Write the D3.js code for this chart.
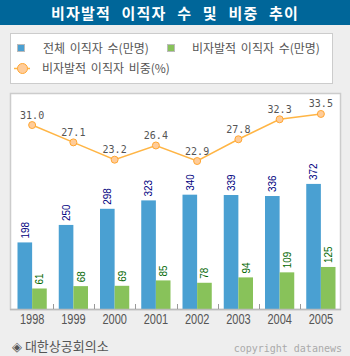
<!DOCTYPE html>
<html>
<head>
<meta charset="utf-8">
<script src="https://cdn.jsdelivr.net/npm/d3@7"></script>
<style>
  html, body { margin: 0; padding: 0; background: #eeeeee; }
  svg { display: block; }
</style>
</head>
<body>
<svg id="chart" width="350" height="356"></svg>
<script>
// chart data
const years = ["1998", "1999", "2000", "2001", "2002", "2003", "2004", "2005"];
const totalJobLeavers = [198, 250, 298, 323, 340, 339, 336, 372];
const involuntaryLeavers = [61, 68, 69, 85, 78, 94, 109, 125];
const involuntaryShare = [31.0, 27.1, 23.2, 26.4, 22.9, 27.8, 32.3, 33.5];

const titleText = "비자발적 이직자 수 및 비중 추이";
const seriesNames = ["전체 이직자 수(만명)", "비자발적 이직자 수(만명)", "비자발적 이직자 비중(%)"];
const sourceText = "◈ 대한상공회의소";
const copyText = "copyright datanews";

// display parameters
const W = 350, H = 356;
const plot = { left: 10, top: 93, right: 340, bottom: 309 };
const barColor = "#4aa0d2", greenColor = "#88c25a";
const lineColor = "#ffb545", markFill = "#ffcc99", markStroke = "#ffa733";
const korFont = "'Noto Sans CJK KR', 'Noto Sans', sans-serif";
const sansFont = "'Liberation Sans', Arial, sans-serif";
const monoFont = "'DejaVu Sans Mono', monospace";

const svg = d3.select("#chart");

// background
svg.append("rect").attr("width", W).attr("height", H).attr("fill", "#eeeeee");

// title bar
svg.append("rect").attr("x", 0).attr("y", 0).attr("width", W).attr("height", 25)
    .attr("fill", "#006699");
svg.append("text")
    .attr("x", W / 2).attr("y", 19)
    .attr("text-anchor", "middle")
    .attr("fill", "#ffffff")
    .style("font-family", korFont)
    .style("font-weight", "bold")
    .style("font-size", "15px")
    .style("letter-spacing", "1.2px")
    .style("word-spacing", "6px")
    .text(titleText);

// legend box
const legend = svg.append("g");
legend.append("rect")
    .attr("x", 10.5).attr("y", 33.5).attr("width", 322).attr("height", 50)
    .attr("fill", "#ffffff").attr("stroke", "#cccccc");

function legendText(x, y, t) {
    legend.append("text")
        .attr("x", x).attr("y", y)
        .attr("fill", "#555555")
        .style("font-family", korFont)
        .style("font-size", "12px")
        .style("word-spacing", "2px")
        .text(t);
}
legend.append("rect").attr("x", 17.5).attr("y", 44.5).attr("width", 7).attr("height", 7)
    .attr("fill", barColor).attr("stroke", "#bbbbbb");
legendText(43, 53, seriesNames[0]);
legend.append("rect").attr("x", 167.5).attr("y", 44.5).attr("width", 7).attr("height", 7)
    .attr("fill", greenColor).attr("stroke", "#bbbbbb");
legendText(192, 53, seriesNames[1]);
legend.append("line").attr("x1", 14).attr("x2", 30).attr("y1", 68.5).attr("y2", 68.5)
    .attr("stroke", lineColor).attr("stroke-width", 1.5);
legend.append("circle").attr("cx", 22.5).attr("cy", 68.5).attr("r", 5)
    .attr("fill", markFill).attr("stroke", markStroke);
legendText(42, 73, seriesNames[2]);

// plot area
svg.append("rect")
    .attr("x", plot.left + 0.5).attr("y", plot.top + 0.5)
    .attr("width", plot.right - plot.left).attr("height", plot.bottom - plot.top)
    .attr("fill", "#ffffff").attr("stroke", "#cccccc").attr("stroke-width", 1.5);

// scales
const x0 = d3.scaleBand().domain(years).range([11.5, 341.5]).padding(0);
const x1 = d3.scaleBand().domain(["total", "inv"]).range([6, x0.bandwidth() - 6]).padding(0);
const y = d3.scaleLinear().domain([0, 400]).range([plot.bottom, 174.5]);
const yLine = d3.scaleLinear().domain([20, 35]).range([173.9, 107.3]);

const rows = years.map((yr, i) => ({
    year: yr, total: totalJobLeavers[i], inv: involuntaryLeavers[i], share: involuntaryShare[i]
}));

// bars
const body = svg.append("g").attr("id", "chartBody");
const groups = body.selectAll("g.year").data(rows).join("g")
    .attr("class", "year")
    .attr("transform", d => `translate(${x0(d.year)},0)`);

groups.append("rect")
    .attr("x", x1("total")).attr("width", x1.bandwidth())
    .attr("y", d => y(d.total)).attr("height", d => y(0) - y(d.total))
    .attr("fill", barColor);
groups.append("rect")
    .attr("x", x1("inv")).attr("width", x1.bandwidth())
    .attr("y", d => y(d.inv)).attr("height", d => y(0) - y(d.inv))
    .attr("fill", greenColor);

// bar value labels, rotated (squeezed a little along the text, like the narrow original)
function barLabel(key, color) {
    groups.append("text")
        .attr("transform", d => `translate(${x1(key) + x1.bandwidth() / 2},${y(d[key]) - 4}) rotate(-90) scale(0.9,1)`)
        .attr("dy", "0.35em")
        .attr("fill", color)
        .style("font-family", sansFont)
        .style("font-size", "11px")
        .text(d => d[key]);
}
barLabel("total", "#000080");
barLabel("inv", "#006600");

// x axis
svg.append("line")
    .attr("x1", plot.left).attr("x2", plot.right + 1)
    .attr("y1", plot.bottom + 0.5).attr("y2", plot.bottom + 0.5)
    .attr("stroke", "#bbbbbb").attr("stroke-width", 1.5);
svg.append("g").selectAll("line").data(years.slice(1)).join("line")
    .attr("x1", d => Math.round(x0(d)) + 0.5).attr("x2", d => Math.round(x0(d)) + 0.5)
    .attr("y1", plot.bottom - 5).attr("y2", plot.bottom)
    .attr("stroke", "#999999");
svg.append("g").selectAll("text").data(years).join("text")
    .attr("transform", d => `translate(${x0(d) + x0.bandwidth() / 2},323.5) scale(0.76,1)`)
    .attr("text-anchor", "middle")
    .attr("fill", "#555555")
    .style("font-family", sansFont)
    .style("font-size", "14.5px")
    .text(d => d);

// share line
const line = d3.line()
    .x(d => x0(d.year) + x0.bandwidth() / 2)
    .y(d => yLine(d.share));
body.append("path").datum(rows)
    .attr("d", line)
    .attr("fill", "none")
    .attr("stroke", lineColor)
    .attr("stroke-width", 1.5);
body.selectAll("circle.pt").data(rows).join("circle")
    .attr("class", "pt")
    .attr("cx", d => x0(d.year) + x0.bandwidth() / 2)
    .attr("cy", d => yLine(d.share))
    .attr("r", 3.5)
    .attr("fill", markFill).attr("stroke", markStroke);
body.selectAll("text.pt").data(rows).join("text")
    .attr("class", "pt")
    .attr("x", d => x0(d.year) + x0.bandwidth() / 2)
    .attr("y", d => yLine(d.share) - 6.5)
    .attr("text-anchor", "middle")
    .attr("fill", "#555555")
    .style("font-family", monoFont)
    .style("font-size", "10px")
    .text(d => d.share.toFixed(1));

// footer
svg.append("text")
    .attr("x", 12).attr("y", 351)
    .attr("fill", "#555555")
    .style("font-family", korFont)
    .style("font-size", "13px")
    .text(sourceText);
svg.append("text")
    .attr("x", 342).attr("y", 352)
    .attr("text-anchor", "end")
    .attr("fill", "#aaaaaa")
    .style("font-family", monoFont)
    .style("font-size", "10px")
    .text(copyText);
</script>
</body>
</html>
